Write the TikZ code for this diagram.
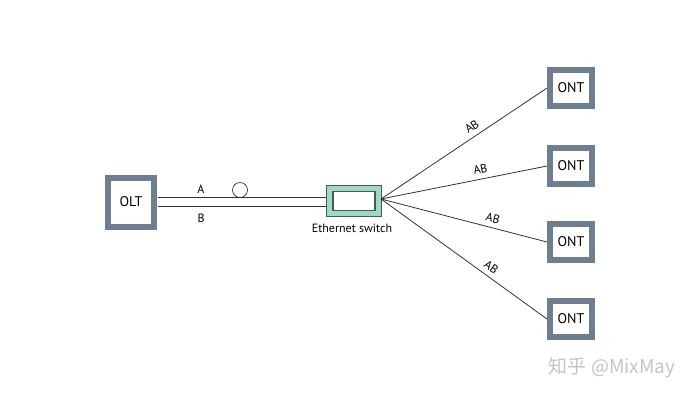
\documentclass[tikz,border=0pt]{standalone}
\usepackage{fontspec}
\setmainfont{PT Sans}
\newfontfamily\cjkfont{Noto Sans CJK SC}
\definecolor{slate}{HTML}{6F7E8F}
\definecolor{teal}{HTML}{A3D6C4}
\definecolor{tealdark}{HTML}{3F5F55}
\definecolor{wire}{HTML}{333333}
\definecolor{wm}{HTML}{C4C4C4}
\begin{document}
\begin{tikzpicture}[x=1pt,y=-1pt,
  devbox/.style={draw=slate,line width=6pt,fill=white,minimum width=46pt,minimum height=49pt,inner sep=0pt,font=\fontsize{14}{16}\selectfont},
  ontbox/.style={draw=slate,line width=6pt,fill=white,minimum width=42pt,minimum height=36pt,inner sep=0pt,font=\fontsize{14}{16}\selectfont},
  wirestyle/.style={draw=wire,line width=0.8pt},
  lbl/.style={font=\fontsize{12}{14}\selectfont,inner sep=1pt},
  ab/.style={lbl,sloped,above=4pt}]
\useasboundingbox (0,0) rectangle (700,400);
% OLT
\node[devbox] (olt) at (131,202) {OLT};
% switch
\node[draw=tealdark,line width=0.8pt,fill=teal,minimum width=55pt,minimum height=31pt,inner sep=0pt] (sw) at (354,200.5) {};
\node[draw=tealdark,line width=1.6pt,fill=white,minimum width=42pt,minimum height=19pt,inner sep=0pt] (swin) at (354,201) {};
\node[lbl,anchor=north] (swl) at (352,223) {Ethernet switch};
% double line
\coordinate (a1) at (158,197.5);
\coordinate (a2) at (326,197.5);
\coordinate (b1) at (158,206);
\coordinate (b2) at (326,206);
\draw[wirestyle] (a1) -- (a2);
\draw[wirestyle] (b1) -- (b2);
\node[lbl] (la) at (201,189) {A};
\node[lbl] (lb) at (201,218) {B};
\node[draw=wire,line width=0.7pt,circle,minimum size=15pt,inner sep=0pt] (circ) at (240,190) {};
% fan point
\coordinate (fan) at (381,199);
% ONTs
\node[ontbox] (o1) at (571,88) {ONT};
\node[ontbox] (o2) at (571,166) {ONT};
\node[ontbox] (o3) at (571,242) {ONT};
\node[ontbox] (o4) at (571,319) {ONT};
\draw[wirestyle] (fan) -- node[ab,pos=0.58] {AB} (o1.west);
\draw[wirestyle] (fan) -- node[ab,pos=0.61] {AB} (o2.west);
\draw[wirestyle] (fan) -- node[ab,pos=0.66] {AB} (o3.west);
\draw[wirestyle] (fan) -- node[ab,pos=0.63] {AB} (o4.west);
% watermark
\node[text=wm,font=\cjkfont\fontsize{19}{21}\selectfont] (wmk) at (612,368) {知乎 @MixMay};
\end{tikzpicture}
\end{document}
